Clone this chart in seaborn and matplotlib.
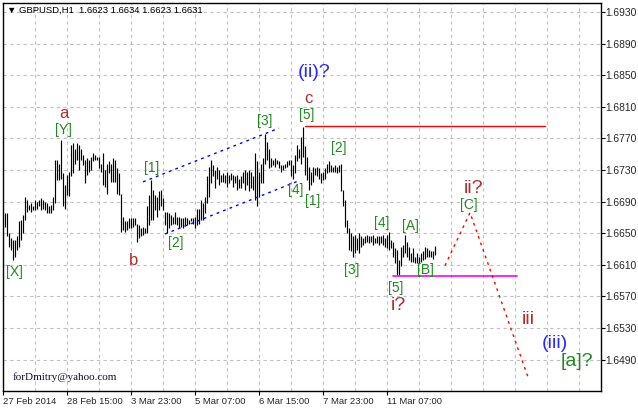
import numpy as np
import matplotlib
matplotlib.use('Agg')
import matplotlib.pyplot as plt
import seaborn as sns

# hourly bars, GBPUSD H1, 27 Feb 2014 07:00 is bar 0
highs = [
    1.6675, 1.6675, 1.6650, 1.6644, 1.6641, 1.6641, 1.6646, 1.6665, 1.6667, 1.6673,
    1.6696, 1.6692, 1.6686, 1.6688, 1.6684, 1.6692, 1.6690, 1.6692, 1.6694, 1.6692,
    1.6690, 1.6688, 1.6684, 1.6686, 1.6696, 1.6743, 1.6743, 1.6738, 1.6768, 1.6726,
    1.6711, 1.6724, 1.6728, 1.6762, 1.6764, 1.6757, 1.6764, 1.6762, 1.6757, 1.6749,
    1.6743, 1.6745, 1.6743, 1.6747, 1.6751, 1.6749, 1.6747, 1.6747, 1.6738, 1.6751,
    1.6730, 1.6738, 1.6741, 1.6738,
    1.6745, 1.6743, 1.6732, 1.6726, 1.6700, 1.6671, 1.6665, 1.6665, 1.6669, 1.6669,
    1.6669, 1.6669, 1.6662, 1.6660, 1.6656, 1.6658, 1.6656, 1.6684, 1.6698, 1.6717,
    1.6705, 1.6698, 1.6696, 1.6703, 1.6705, 1.6694, 1.6677, 1.6677, 1.6675, 1.6673,
    1.6671, 1.6677, 1.6671, 1.6671, 1.6669, 1.6669, 1.6671, 1.6669, 1.6667, 1.6669,
    1.6669, 1.6671, 1.6681, 1.6681, 1.6692, 1.6688, 1.6696, 1.6722, 1.6734, 1.6743,
    1.6736, 1.6730, 1.6734,
    1.6730, 1.6724, 1.6726, 1.6724, 1.6728, 1.6724, 1.6726, 1.6724, 1.6722, 1.6724,
    1.6719, 1.6722, 1.6728, 1.6730, 1.6728, 1.6730, 1.6728, 1.6722, 1.6751, 1.6741,
    1.6728, 1.6738, 1.6745, 1.6776, 1.6766, 1.6757, 1.6745, 1.6743, 1.6745, 1.6743,
    1.6741, 1.6736, 1.6736, 1.6738, 1.6741, 1.6743, 1.6743, 1.6736, 1.6749, 1.6762,
    1.6757, 1.6772, 1.6785, 1.6760, 1.6747, 1.6734, 1.6728, 1.6734, 1.6732, 1.6734,
    1.6732, 1.6726,
    1.6728, 1.6732, 1.6738, 1.6741, 1.6736, 1.6734, 1.6736, 1.6734, 1.6736, 1.6738,
    1.6705, 1.6692, 1.6667, 1.6656, 1.6650, 1.6646, 1.6648, 1.6644, 1.6650, 1.6646,
    1.6644, 1.6646, 1.6648, 1.6646, 1.6646, 1.6648, 1.6644, 1.6646, 1.6646, 1.6646,
    1.6648, 1.6644, 1.6648, 1.6652, 1.6641, 1.6639, 1.6631, 1.6629, 1.6616, 1.6633,
    1.6635, 1.6648, 1.6639, 1.6633, 1.6625, 1.6631, 1.6620, 1.6625, 1.6620, 1.6625,
    1.6627, 1.6633, 1.6631, 1.6629, 1.6627, 1.6627, 1.6634,
]
lows = [
    1.6658, 1.6646, 1.6633, 1.6629, 1.6616, 1.6620, 1.6629, 1.6633, 1.6641, 1.6650,
    1.6667, 1.6677, 1.6679, 1.6677, 1.6679, 1.6679, 1.6681, 1.6684, 1.6679, 1.6681,
    1.6679, 1.6675, 1.6675, 1.6675, 1.6679, 1.6688, 1.6717, 1.6717, 1.6719, 1.6684,
    1.6681, 1.6698, 1.6697, 1.6722, 1.6726, 1.6738, 1.6743, 1.6730, 1.6743, 1.6736,
    1.6713, 1.6724, 1.6728, 1.6730, 1.6741, 1.6743, 1.6743, 1.6732, 1.6728, 1.6711,
    1.6709, 1.6700, 1.6726, 1.6715,
    1.6715, 1.6715, 1.6700, 1.6698, 1.6652, 1.6654, 1.6652, 1.6654, 1.6656, 1.6656,
    1.6658, 1.6660, 1.6639, 1.6644, 1.6646, 1.6648, 1.6650, 1.6650, 1.6660, 1.6667,
    1.6667, 1.6679, 1.6671, 1.6679, 1.6684, 1.6679, 1.6660, 1.6650, 1.6656, 1.6660,
    1.6662, 1.6662, 1.6660, 1.6656, 1.6658, 1.6656, 1.6660, 1.6660, 1.6662, 1.6665,
    1.6662, 1.6656, 1.6660, 1.6662, 1.6667, 1.6667, 1.6675, 1.6688, 1.6696, 1.6713,
    1.6722, 1.6707, 1.6719,
    1.6711, 1.6715, 1.6715, 1.6713, 1.6709, 1.6713, 1.6717, 1.6709, 1.6713, 1.6705,
    1.6707, 1.6707, 1.6713, 1.6705, 1.6711, 1.6703, 1.6707, 1.6705, 1.6692, 1.6684,
    1.6696, 1.6713, 1.6713, 1.6738, 1.6743, 1.6732, 1.6734, 1.6736, 1.6734, 1.6738,
    1.6732, 1.6728, 1.6730, 1.6732, 1.6734, 1.6736, 1.6722, 1.6719, 1.6726, 1.6741,
    1.6745, 1.6738, 1.6747, 1.6724, 1.6717, 1.6705, 1.6711, 1.6715, 1.6724, 1.6722,
    1.6719, 1.6713,
    1.6717, 1.6719, 1.6726, 1.6728, 1.6728, 1.6728, 1.6728, 1.6726, 1.6728, 1.6703,
    1.6684, 1.6658, 1.6650, 1.6629, 1.6627, 1.6620, 1.6625, 1.6629, 1.6625, 1.6633,
    1.6635, 1.6637, 1.6639, 1.6637, 1.6639, 1.6635, 1.6637, 1.6637, 1.6635, 1.6637,
    1.6635, 1.6633, 1.6631, 1.6629, 1.6631, 1.6620, 1.6612, 1.6597, 1.6597, 1.6608,
    1.6620, 1.6625, 1.6620, 1.6616, 1.6614, 1.6614, 1.6612, 1.6612, 1.6612, 1.6614,
    1.6616, 1.6618, 1.6620, 1.6620, 1.6620, 1.6618, 1.6623,
]

date_ticks = [0, 32, 64, 96, 128, 160, 192]
date_labels = ['27 Feb 2014', '28 Feb 15:00', '3 Mar 23:00', '5 Mar 07:00',
               '6 Mar 15:00', '7 Mar 23:00', '11 Mar 07:00']
price_ticks = [1.6490, 1.6530, 1.6570, 1.6610, 1.6650, 1.6690, 1.6730,
               1.6770, 1.6810, 1.6850, 1.6890, 1.6930]

# levels and projections
resist_x = [151, 271]
resist_y = [1.6786, 1.6786]
support_x = [195, 257]
support_y = [1.6596, 1.6596]
chan_up_x = [70, 138]
chan_up_y = [1.6715, 1.6783]
chan_lo_x = [81, 148.5]
chan_lo_y = [1.6649, 1.6717]
proj_x = [221, 233.5, 262.5]
proj_y = [1.6609, 1.6676, 1.6468]

GREEN = '#1f8a1f'
BROWN = '#ad2f2f'
BLUE = '#2a2aff'
labels = [
    ('(ii)?', 155.5, 1.6853, BLUE, 14),
    ('c', 152.5, 1.6821, BROWN, 12),
    ('[5]', 152, 1.6800, GREEN, 10),
    ('a', 30.5, 1.6802, BROWN, 12),
    ('[Y]', 30, 1.6781, GREEN, 10),
    ('[3]', 131, 1.6792, GREEN, 10),
    ('[1]', 74.5, 1.6733, GREEN, 10),
    ('[2]', 86.5, 1.6638, GREEN, 10),
    ('b', 65.5, 1.6616, BROWN, 12),
    ('[X]', 5.5, 1.6601, GREEN, 10),
    ('[4]', 146.5, 1.6705, GREEN, 10),
    ('[1]', 155, 1.6691, GREEN, 10),
    ('[2]', 168, 1.6758, GREEN, 10),
    ('[3]', 174.5, 1.6603, GREEN, 10),
    ('[4]', 189.5, 1.6663, GREEN, 10),
    ('[A]', 203.5, 1.6659, GREEN, 10),
    ('[B]', 211, 1.6603, GREEN, 10),
    ('[5]', 196.5, 1.6581, GREEN, 10),
    ('i?', 197.5, 1.6558, BROWN, 14),
    ('ii?', 235.5, 1.6706, BROWN, 14),
    ('[C]', 233, 1.6686, GREEN, 10),
    ('iii', 262.5, 1.6541, BROWN, 14),
    ('(iii)', 276, 1.6511, BLUE, 14),
    ('[a]?', 287, 1.6488, GREEN, 14),
]

sns.set_theme(style='white')
plt.rcParams['font.family'] = ['Liberation Sans', 'DejaVu Sans']

fig = plt.figure(figsize=(6.38, 4.08), dpi=100)
ax = fig.add_axes([3 / 638, 17 / 408, 597.7 / 638, 388 / 408])

bar_x = np.arange(1, len(highs) + 1)
ax.vlines(bar_x, lows, highs, colors='black', linewidth=0.85)

ax.set_xlim(0, 298.85)
ax.set_ylim(1.64503, 1.69414)

# MT4 style grid
for gx in range(16, 299, 16):
    ax.axvline(gx, color='#c0c0c0', linewidth=0.8, linestyle=(0, (3, 3)), zorder=0)
for gy in price_ticks:
    ax.axhline(gy, color='#c0c0c0', linewidth=0.8, linestyle=(0, (3, 3)), zorder=0)

ax.plot(resist_x, resist_y, color='#ff0000', linewidth=1)
ax.plot(support_x, support_y, color='#ff00ff', linewidth=1.2)
ax.plot(chan_up_x, chan_up_y, color='#0000ff', linewidth=1, linestyle=(0, (2, 3)))
ax.plot(chan_lo_x, chan_lo_y, color='#0000ff', linewidth=1, linestyle=(0, (2, 3)))
sns.lineplot(x=proj_x, y=proj_y, ax=ax, color='#ff0000', linewidth=1,
             linestyle=(0, (2, 3)), sort=False, estimator=None)

for txt, lx, ly, col, fs in labels:
    ax.text(lx, ly, txt, color=col, fontsize=fs, ha='center', va='center')

ax.text(5, 1.6468, 'forDmitry@yahoo.com', fontsize=8, family='Liberation Serif',
        color='#101030', ha='left', va='center')
fig.text(7 / 638, 1 - 10 / 408, '\u25bc GBPUSD,H1  1.6623 1.6634 1.6623 1.6631',
         fontsize=6.8, color='black', ha='left', va='center')

ax.yaxis.tick_right()
ax.set_yticks(price_ticks)
ax.set_yticklabels([f'{v:.4f}' for v in price_ticks])
ax.set_xticks(date_ticks)
ax.set_xticklabels(date_labels, ha='left')
ax.tick_params(axis='both', which='both', length=3, width=0.8, color='black',
               labelsize=6.8, pad=1, direction='out')
ax.tick_params(axis='y', right=True, left=False, labelsize=7.4, pad=0.5)
ax.tick_params(axis='x', bottom=True)
for s in ax.spines.values():
    s.set_color('black')
    s.set_linewidth(1)
    s.set_visible(True)

fig.savefig('out.png', dpi=100, facecolor='white')
